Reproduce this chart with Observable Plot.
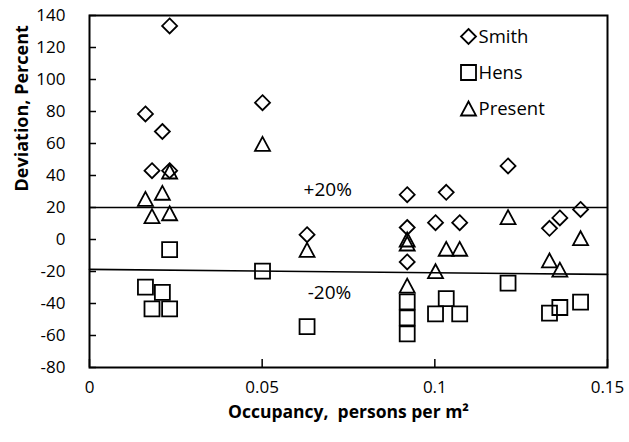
<!DOCTYPE html>
<html>
<head>
<meta charset="utf-8">
<script src="https://cdn.jsdelivr.net/npm/d3@7"></script>
<script src="https://cdn.jsdelivr.net/npm/@observablehq/plot@0.6"></script>
<style>
  html, body { margin: 0; padding: 0; background: #fff; }
  #chart svg { display: block; }
</style>
</head>
<body>
<div id="chart"></div>
<script>
// Occupancy of each test case (persons per m²)
const occupancy = [0.0162, 0.0181, 0.0211, 0.0232, 0.0232, 0.0501, 0.0630, 0.0920, 0.0920, 0.0920,
                   0.1002, 0.1033, 0.1072, 0.1212, 0.1332, 0.1362, 0.1422];
// Deviation (%) of each model for the same cases
const smith   = [78.5, 43, 67.5, 133.5, 43, 85.5, 3, 28, 7.5, -14, 10.5, 29.5, 10.5, 46, 7, 13.5, 18.8];
const hens    = [-29.8, -43.3, -33, -6.3, -43.3, -19.8, -54.5, -39, -49, -59, -46.5, -37, -46.5, -27.3, -46, -42.5, -39.2];
const present = [25.4, 14.6, 29.2, 42.5, 16.4, 59.8, -6.5, 0, -2.5, -28.8, -19.8, -5.8, -5.8, 14, -13.1, -18.8, 0.8];

const seriesNames = ["Smith", "Hens", "Present"];
const xTicks = [0, 0.05, 0.1, 0.15];
const yTicks = [-80, -60, -40, -20, 0, 20, 40, 60, 80, 100, 120, 140];

// ±20 % reference lines
const upperBand = 20;
const lowerBandX = [0, 0.15];
const lowerBandY = [-18.7, -21.8];

// Hollow marker shapes
const diamond = {draw(ctx, size) { const r = Math.sqrt(size / Math.PI);
  ctx.moveTo(0, -r); ctx.lineTo(r, 0); ctx.lineTo(0, r); ctx.lineTo(-r, 0); ctx.closePath(); }};
const square = {draw(ctx, size) { const r = Math.sqrt(size / Math.PI);
  ctx.rect(-r, -r, 2 * r, 2 * r); }};
const triangle = {draw(ctx, size) { const r = Math.sqrt(size / Math.PI), h = r * 0.93;
  ctx.moveTo(0, -h); ctx.lineTo(r, h); ctx.lineTo(-r, h); ctx.closePath(); }};
const symbols = [diamond, square, triangle];

const table = (values) => occupancy.map((x, i) => ({x, y: values[i]}));
const series = [smith, hens, present].map(table);

const markerStyle = {fill: "none", stroke: "#000", strokeWidth: 1.8, r: 7.5};

// Legend in the upper right corner of the frame
const legendMarks = seriesNames.flatMap((name, i) => [
  Plot.dot([name], {frameAnchor: "top-left", dx: 379, dy: 21 + i * 36, symbol: symbols[i], ...markerStyle}),
  Plot.text([name], {frameAnchor: "top-left", dx: 389, dy: 22 + i * 36, text: d => d,
    textAnchor: "start", lineAnchor: "middle", fontSize: 18.5})
]);

const frameHeight = 442 - 15 - 75;
const frameWidth = 629 - 89 - 22;

const chart = Plot.plot({
  width: 629,
  height: 442,
  marginLeft: 89,
  marginRight: 22,
  marginTop: 15,
  marginBottom: 75,
  style: {fontFamily: "'Open Sans', sans-serif", fontSize: "17px", color: "#000", background: "#fff"},
  x: {domain: [0, 0.15], label: null},
  y: {domain: [-80, 140], label: null},
  marks: [
    Plot.ruleY([upperBand], {stroke: "#000", strokeWidth: 1.6}),
    Plot.line(lowerBandX.map((x, i) => ({x, y: lowerBandY[i]})), {x: "x", y: "y", stroke: "#000", strokeWidth: 1.6}),
    Plot.text(["+20%"], {x: 0.069, y: upperBand, dy: -18, text: d => d, fontSize: 19}),
    Plot.text(["-20%"], {x: 0.0695, y: -20, dy: 21, text: d => d, fontSize: 19}),
    ...series.map((data, i) => Plot.dot(data, {x: "x", y: "y", symbol: symbols[i], ...markerStyle})),
    // inward tick marks
    Plot.tickX(xTicks, {x: d => d, insetTop: frameHeight - 8, stroke: "#000", strokeWidth: 1.5}),
    Plot.tickY(yTicks, {y: d => d, insetRight: frameWidth - 7, stroke: "#000", strokeWidth: 1.5}),
    Plot.axisX({ticks: xTicks, tickFormat: d => String(d), tickSize: 0, tickPadding: 13}),
    Plot.axisY({ticks: yTicks, tickFormat: d => String(d), tickSize: 0, tickPadding: 24}),
    Plot.frame({stroke: "#000", strokeWidth: 2}),
    ...legendMarks,
    Plot.text(["Deviation, Percent"], {frameAnchor: "left", dx: -67, rotate: -90, text: d => d,
      fontWeight: "bold", fontSize: 18}),
    Plot.text(["Occupancy,\u00a0 persons per m\u00b2"], {frameAnchor: "bottom", dy: 50, text: d => d,
      fontWeight: "bold", fontSize: 17.5})
  ]
});

document.getElementById("chart").append(chart);
</script>
</body>
</html>
